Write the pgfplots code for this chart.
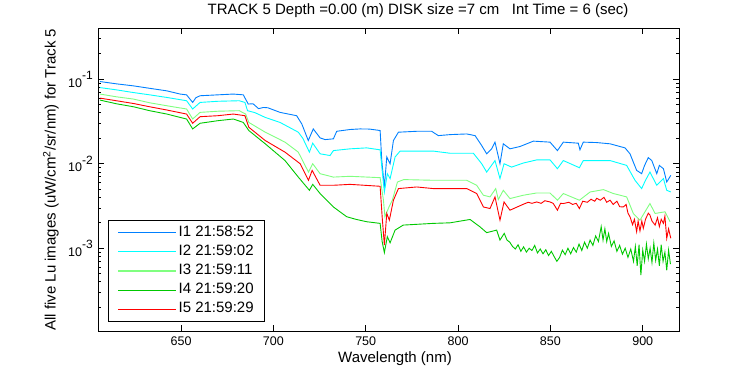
\documentclass[border=0pt]{standalone}
\usepackage{fontspec}
\setmainfont{Liberation Sans}
\usepackage{pgfplots}
\pgfplotsset{compat=1.18}
\definecolor{c1}{RGB}{0,128,255}
\definecolor{c2}{RGB}{0,255,255}
\definecolor{c3}{RGB}{128,255,128}
\definecolor{c4}{RGB}{0,200,0}
\definecolor{c5}{RGB}{255,0,0}
\newcommand{\tfont}{\fontsize{15}{18}\selectfont}
\newcommand{\kfont}{\fontsize{12.5}{15}\selectfont}
\begin{document}
\begin{tikzpicture}[x=1pt,y=1pt]
\path[use as bounding box] (0,0) rectangle (750,375);
\begin{axis}[
  at={(98.3pt,44pt)}, anchor=south west,
  scale only axis, width=581pt, height=302.7pt,
  xmin=605.2, xmax=919.8,
  ymode=log, ymin=1.05e-4, ymax=0.4,
  xtick={650,700,750,800,850,900},
  ytick={1e-3,1e-2,1e-1},
  yticklabels={10\raisebox{0.6em}{\fontsize{12}{12}\selectfont -3},10\raisebox{0.6em}{\fontsize{12}{12}\selectfont -2},10\raisebox{0.6em}{\fontsize{12}{12}\selectfont -1}},
  minor ytick={2e-4,3e-4,4e-4,5e-4,6e-4,7e-4,8e-4,9e-4,2e-3,3e-3,4e-3,5e-3,6e-3,7e-3,8e-3,9e-3,2e-2,3e-2,4e-2,5e-2,6e-2,7e-2,8e-2,9e-2,2e-1,3e-1},
  tick align=inside,
  major tick length=6pt, minor tick length=3pt,
  every tick/.style={black, line width=0.8pt},
  axis line style={black, line width=0.8pt},
  /pgf/number format/assume math mode=true,
  /pgf/number format/1000 sep={},
  tick label style={font=\kfont},
  xticklabel style={yshift=-2pt},
  yticklabel style={xshift=-2pt},
  legend style={at={(0.0172,0.0307)}, anchor=south west, draw=black, line width=0.8pt, fill=white,
    font=\tfont, inner xsep=9pt, inner ysep=3pt, row sep=1.2pt,
    nodes={inner sep=2pt, text height=10.5pt, text depth=3.5pt}},
  legend cell align=left,
  legend image code/.code={\draw[#1, line width=1.2pt] (0pt,0pt) -- (57.7pt,0pt);},
  every axis plot/.append style={line width=0.9pt},
]
% I1
\addplot[color=c1] coordinates {
(606.1,0.0938)(615,0.0881)(624.2,0.0834)(633,0.078)(642.3,0.0728)(649.5,0.0667)(653,0.0653)(656.3,0.0531)(658,0.0603)(660.3,0.0637)(670,0.0653)(678.3,0.0667)(683.7,0.0653)(686.4,0.0508)(689,0.0512)(692,0.0448)(694.6,0.0463)(697,0.0459)(703.6,0.0405)(712.6,0.037)(715.4,0.0295)(718.9,0.0188)(721.6,0.0258)(725.3,0.0202)(728,0.0193)(732.5,0.0197)(734.3,0.0242)(741.5,0.0254)(746.9,0.0258)(752,0.0257)(757.8,0.0247)(758.7,0.0109)(760.1,0.00531)(761.4,0.012)(763.2,0.01)(765,0.0188)(767.7,0.0236)(777.6,0.0242)(785.7,0.0242)(789.3,0.0215)(795.7,0.0221)(804.7,0.0225)(809.2,0.0215)(812.8,0.0164)(815.5,0.0131)(818.2,0.015)(820,0.018)(822.7,0.01)(824.5,0.0172)(828.1,0.015)(833.6,0.016)(840.8,0.0185)(849.8,0.018)(853.8,0.0143)(857,0.018)(865.1,0.0175)(866,0.0146)(867.8,0.018)(875,0.0178)(882.3,0.0172)(890.4,0.0154)(893.1,0.0131)(896.7,0.00834)(899.4,0.00762)(901,0.00955)(903,0.0118)(904.9,0.0109)(907.6,0.00762)(909,0.00955)(911.2,0.00873)(913,0.00608)(915.2,0.00728)
};
\addlegendentry{I1 21:58:52}
% I2
\addplot[color=c2] coordinates {
(606.1,0.0796)(615,0.0748)(624.2,0.0695)(633,0.0653)(642.3,0.0608)(653,0.0556)(656.3,0.0444)(660.3,0.0531)(670,0.0548)(681.5,0.0556)(684.6,0.0531)(686,0.0424)(690,0.0402)(695.6,0.0353)(703.6,0.0308)(713.5,0.0236)(716,0.0199)(719.5,0.0137)(721.3,0.0175)(725.3,0.0131)(730.7,0.0125)(732.5,0.0143)(741.5,0.015)(750.5,0.0154)(757.8,0.0146)(758.9,0.00834)(760.1,0.00463)(761.7,0.00762)(763.2,0.00667)(765.9,0.012)(768.6,0.0141)(786.6,0.0141)(795.7,0.0133)(808.3,0.0133)(812.8,0.01)(815.5,0.00796)(820,0.0109)(822.7,0.00667)(824.9,0.01)(829,0.00912)(835.4,0.0102)(842.6,0.0111)(849.8,0.0111)(853.8,0.00873)(857,0.0109)(865.7,0.00897)(867.8,0.0109)(882.3,0.0109)(891.3,0.00955)(895.8,0.00637)(899.4,0.00508)(901.5,0.00637)(903.9,0.00796)(907.6,0.00556)(911.2,0.00667)(913,0.00485)(915.2,0.00463)
};
\addlegendentry{I2 21:59:02}
% I3
\addplot[color=c3] coordinates {
(606.1,0.0667)(615,0.0619)(624.2,0.0582)(633,0.0526)(642.3,0.0485)(653,0.0444)(656.3,0.0338)(660.3,0.0405)(670,0.0418)(681.5,0.0424)(685,0.0387)(686.7,0.0308)(695.6,0.0236)(706.3,0.018)(713.5,0.0137)(719,0.00796)(721.3,0.01)(725.3,0.00762)(732.5,0.00695)(741.5,0.0071)(757.8,0.00684)(759.6,0.0037)(760.4,0.00236)(762.6,0.00308)(764.4,0.0037)(767.2,0.00608)(770.6,0.00649)(786.6,0.00637)(804.7,0.00637)(810.1,0.00556)(813.7,0.00424)(817.3,0.00405)(820.4,0.00508)(821.8,0.00377)(824.5,0.00485)(828.1,0.00387)(835.4,0.00424)(842.6,0.00451)(849.8,0.00451)(853.8,0.0037)(857,0.00444)(865.7,0.0037)(871.5,0.00463)(878.7,0.00494)(884.1,0.00444)(891.3,0.00405)(894.9,0.00258)(898.5,0.00215)(903.9,0.00338)(906.7,0.00258)(912.1,0.0027)(914.8,0.00206)
};
\addlegendentry{I3 21:59:11}
% I4
\addplot[color=c4] coordinates {
(606.1,0.0566)(615,0.0512)(624.2,0.0472)(633,0.0424)(642.3,0.0387)(653,0.0338)(656.3,0.0258)(660.3,0.0301)(670,0.0323)(678.3,0.0338)(683.7,0.0308)(686.7,0.0247)(695.6,0.0172)(706.3,0.0109)(713.5,0.00695)(719.5,0.00485)(721.3,0.0057)(725.3,0.00444)(732.5,0.00308)(739.7,0.00236)(745,0.00219)(750.5,0.00206)(757.8,0.00197)(758.9,0.0012)(760.1,0.000889)(761.7,0.00137)(763.2,0.00116)(765.9,0.00164)(770.3,0.00188)(786.6,0.00197)(795.7,0.002)(806.5,0.00219)(811.9,0.00179)(815.5,0.00153)(820.9,0.00164)(822.7,0.00125)(825,0.0015)(826.5,0.00125)(828,0.00118)(829.5,0.00105)(831,0.00098)(832.5,0.0011)(834,0.00092)(835.5,0.00104)(837,0.0009)(838.5,0.001)(840,0.00094)(841.5,0.00108)(843,0.00088)(844.5,0.00098)(846,0.00086)(847.5,0.00096)(849,0.00082)(850.5,0.00092)(852,0.0008)(853.5,0.0007)(855,0.00078)(856.5,0.00095)(858,0.00084)(859.5,0.001)(861,0.00086)(862.5,0.00102)(864,0.0009)(865.5,0.00112)(867,0.00094)(868.5,0.00118)(870,0.001)(871.5,0.00125)(873,0.00108)(874.5,0.0014)(876,0.0012)(877.5,0.0018)(878.5,0.00125)(879.5,0.0017)(880.5,0.0012)(881.5,0.0015)(883,0.00105)(884.5,0.00122)(886,0.00092)(887.5,0.00108)(889,0.00085)(890.5,0.001)(892,0.00078)(893.5,0.00098)(895,0.0007)(896,0.00105)(897,0.00062)(898,0.0011)(899,0.00048)(900,0.00095)(901,0.0007)(902,0.00112)(903,0.00075)(904,0.001)(905,0.00068)(906,0.00115)(907,0.00072)(908,0.00098)(909,0.00062)(910,0.0011)(911,0.0007)(912,0.0009)(913,0.00055)(914,0.00095)(915,0.00065)
};
\addlegendentry{I4 21:59:20}
% I5
\addplot[color=c5] coordinates {
(606.1,0.0597)(615,0.0556)(624.2,0.0516)(633,0.0472)(642.3,0.0432)(653,0.0387)(656.3,0.0301)(660.3,0.036)(670,0.037)(678.3,0.0387)(684.6,0.037)(686.7,0.027)(695.6,0.0188)(706.3,0.0137)(714.5,0.01)(719,0.00637)(721,0.00834)(725.3,0.00556)(732.5,0.00556)(741.5,0.0057)(757.8,0.00541)(758.9,0.00236)(760.1,0.00109)(761.4,0.00258)(762.8,0.00215)(765,0.0037)(767.7,0.00508)(777.6,0.00531)(786.6,0.00508)(804.7,0.00508)(810.1,0.00444)(813.7,0.00308)(817.3,0.00295)(820,0.00405)(822.7,0.00215)(824.9,0.00353)(828.1,0.00282)(835.4,0.00332)(838,0.0035)(840,0.0034)(842.6,0.00353)(845,0.0034)(847,0.00365)(849.8,0.00353)(851.5,0.0034)(853.8,0.00282)(855.5,0.0034)(857,0.00338)(860,0.0035)(862,0.0033)(864,0.0034)(865.7,0.00295)(867.5,0.0036)(870,0.0035)(872,0.0038)(874,0.0036)(875.1,0.0039)(877,0.0037)(879,0.004)(880.5,0.0035)(882.3,0.0037)(884,0.0033)(886,0.0036)(887.5,0.0031)(889.5,0.00308)(891,0.0033)(892,0.0026)(893.1,0.00236)(894.5,0.0019)(895.5,0.0022)(896.7,0.00157)(897.5,0.0021)(898.5,0.0016)(899.5,0.0021)(900.3,0.00172)(901.5,0.0022)(903,0.0026)(903.9,0.00247)(905,0.0021)(906.7,0.00188)(908,0.0023)(909,0.0018)(910,0.0022)(911.2,0.00197)(912,0.0024)(913,0.00131)(914,0.0017)(915.2,0.00131)
};
\addlegendentry{I5 21:59:29}
\end{axis}
\node[font=\tfont] at (418,364) {TRACK 5 Depth =0.00 (m) DISK size =7 cm \ \ Int Time = 6 (sec)};
\node[font=\tfont] at (395,16) {Wavelength (nm)};
\node[font=\tfont, rotate=90] at (51,195.3) {All five Lu images (uW/cm\textsuperscript{2}/sr/nm) for Track 5};
\end{tikzpicture}
\end{document}
